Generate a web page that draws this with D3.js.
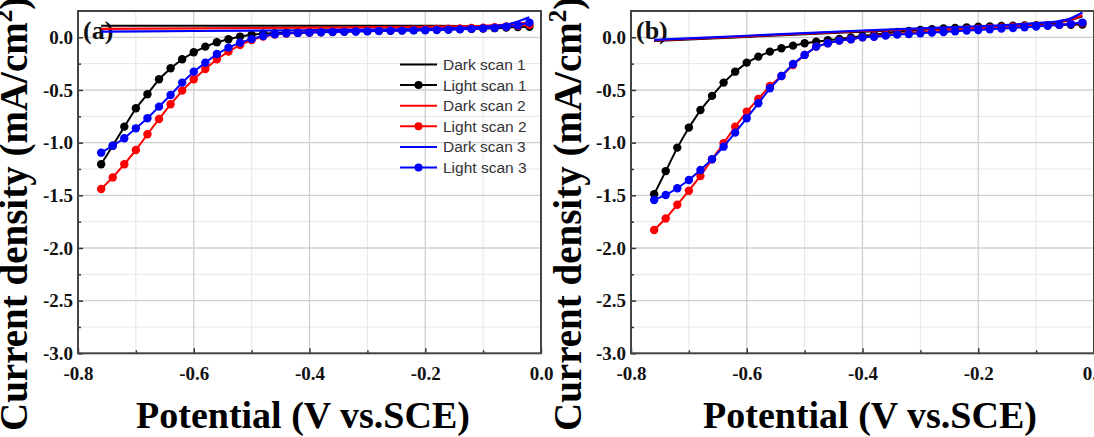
<!DOCTYPE html>
<html><head><meta charset="utf-8">
<script src="https://cdn.jsdelivr.net/npm/d3@7"></script>
<style>body{margin:0;background:#fff} svg{display:block}</style>
</head><body><svg id="c" width="1094" height="437"></svg>
<script>
// ---------- DATA ----------
const potentials = [-0.76,-0.74,-0.72,-0.70,-0.68,-0.66,-0.64,-0.62,-0.60,-0.58,-0.56,-0.54,-0.52,-0.50,-0.48,-0.46,-0.44,-0.42,-0.40,-0.38,-0.36,-0.34,-0.32,-0.30,-0.28,-0.26,-0.24,-0.22,-0.20,-0.18,-0.16,-0.14,-0.12,-0.10,-0.08,-0.06,-0.04,-0.02];

const seriesNames = ["Dark scan 1","Light scan 1","Dark scan 2","Light scan 2","Dark scan 3","Light scan 3"];
const seriesColors = ["#000000","#ff0000","#0000ff"];

// Panel (a)
const lightA1 = [-1.205,-1.03,-0.848,-0.674,-0.54,-0.398,-0.294,-0.208,-0.142,-0.088,-0.047,-0.018,0.007,0.025,0.035,0.04,0.043,0.046,0.048,0.05,0.052,0.055,0.057,0.06,0.062,0.064,0.066,0.068,0.07,0.072,0.075,0.078,0.08,0.083,0.087,0.092,0.097,0.10];
const lightA2 = [-1.44,-1.33,-1.205,-1.07,-0.92,-0.775,-0.636,-0.506,-0.398,-0.30,-0.208,-0.136,-0.072,-0.025,0.007,0.026,0.036,0.042,0.046,0.05,0.053,0.056,0.059,0.062,0.065,0.068,0.07,0.073,0.076,0.079,0.082,0.085,0.088,0.092,0.097,0.103,0.11,0.12];
const lightA3 = [-1.095,-1.03,-0.958,-0.864,-0.768,-0.658,-0.547,-0.43,-0.326,-0.24,-0.158,-0.098,-0.05,-0.015,0.013,0.03,0.038,0.042,0.045,0.048,0.05,0.052,0.055,0.057,0.06,0.062,0.064,0.066,0.068,0.07,0.073,0.076,0.08,0.085,0.09,0.10,0.115,0.14];
const darkPotA = [-0.76,-0.6,-0.4,-0.2,-0.1,-0.06,-0.04,-0.02];
const darkA1 = [0.11,0.11,0.11,0.11,0.105,0.1,0.1,0.1];
const darkA2 = [0.08,0.085,0.092,0.1,0.11,0.12,0.13,0.14];
const darkA3 = [0.055,0.06,0.068,0.08,0.1,0.12,0.15,0.19];

// Panel (b)
const lightB1 = [-1.49,-1.27,-1.047,-0.857,-0.69,-0.556,-0.43,-0.326,-0.24,-0.183,-0.136,-0.104,-0.079,-0.056,-0.041,-0.028,-0.015,-0.002,0.012,0.025,0.038,0.05,0.06,0.07,0.078,0.085,0.09,0.095,0.1,0.104,0.107,0.11,0.112,0.114,0.116,0.118,0.12,0.122];
const lightB2 = [-1.83,-1.72,-1.59,-1.456,-1.316,-1.158,-1.006,-0.848,-0.705,-0.585,-0.462,-0.367,-0.262,-0.167,-0.088,-0.056,-0.031,-0.018,0.0,0.01,0.022,0.032,0.04,0.048,0.055,0.062,0.069,0.076,0.083,0.089,0.095,0.1,0.105,0.11,0.115,0.12,0.128,0.135];
const lightB3 = [-1.544,-1.497,-1.433,-1.354,-1.26,-1.158,-1.038,-0.905,-0.768,-0.626,-0.484,-0.367,-0.253,-0.167,-0.088,-0.056,-0.031,-0.018,0.0,0.006,0.016,0.026,0.032,0.039,0.045,0.051,0.058,0.064,0.07,0.077,0.083,0.089,0.096,0.102,0.11,0.118,0.128,0.14];
const darkPotB = [-0.76,-0.6,-0.5,-0.4,-0.3,-0.2,-0.1,-0.06,-0.04,-0.02];
const darkB1 = [-0.035,0.005,0.03,0.055,0.075,0.095,0.125,0.145,0.165,0.2];
const darkB2 = [-0.03,0.01,0.035,0.06,0.08,0.1,0.13,0.15,0.17,0.21];
const darkB3 = [-0.025,0.015,0.04,0.065,0.085,0.105,0.135,0.155,0.18,0.235];

const xTicks = [-0.8,-0.6,-0.4,-0.2,0.0];
const xMinorTicks = [-0.7,-0.5,-0.3,-0.1];
const yTicks = [0.0,-0.5,-1.0,-1.5,-2.0,-2.5,-3.0];
const yMinorTicks = [-0.25,-0.75,-1.25,-1.75,-2.25,-2.75];
const xDomain = [-0.8, 0.0];
const yDomain = [-3.0, 0.25];
const xTitle = "Potential (V vs.SCE)";
const yTitleMain = "Current density (mA/cm";

// ---------- LAYOUT ----------
const svg = d3.select("#c");
const TOP = 11, BOTTOM = 353.3;
const serif = "'Liberation Serif','Times New Roman',Times,serif";
const sans = "'Liberation Sans',Arial,Helvetica,sans-serif";
const fmt = d => d.toFixed(1);

const panels = [
  {left:78, right:541, label:"(a)", light:[lightA1,lightA2,lightA3], darkPot:darkPotA, dark:[darkA1,darkA2,darkA3], titleX:303, yTitleX:27, legend:true},
  {left:631, right:1094, label:"(b)", light:[lightB1,lightB2,lightB3], darkPot:darkPotB, dark:[darkB1,darkB2,darkB3], titleX:870, yTitleX:581, legend:false}
];

panels.forEach(p => {
  const x = d3.scaleLinear().domain(xDomain).range([p.left, p.right]);
  const y = d3.scaleLinear().domain(yDomain).range([BOTTOM, TOP]);
  const g = svg.append("g");

  // minor gridlines
  g.selectAll(".gxm").data(xMinorTicks).enter().append("line")
    .attr("x1", d=>x(d)).attr("x2", d=>x(d)).attr("y1", TOP).attr("y2", BOTTOM)
    .attr("stroke", "#e6e6e6").attr("stroke-width", 1);
  g.selectAll(".gym").data(yMinorTicks).enter().append("line")
    .attr("y1", d=>y(d)).attr("y2", d=>y(d)).attr("x1", p.left).attr("x2", p.right)
    .attr("stroke", "#e6e6e6").attr("stroke-width", 1);
  // major gridlines
  g.selectAll(".gx").data(xTicks).enter().append("line")
    .attr("x1", d=>x(d)).attr("x2", d=>x(d)).attr("y1", TOP).attr("y2", BOTTOM)
    .attr("stroke", "#cfcfcf").attr("stroke-width", 1.3);
  g.selectAll(".gy").data(yTicks).enter().append("line")
    .attr("y1", d=>y(d)).attr("y2", d=>y(d)).attr("x1", p.left).attr("x2", p.right)
    .attr("stroke", "#cfcfcf").attr("stroke-width", 1.3);

  // axes
  const ax = g.append("g").attr("transform", `translate(0,${BOTTOM})`)
    .call(d3.axisBottom(x).tickValues(xTicks).tickFormat(fmt).tickSize(-5).tickPadding(13));
  const axm = g.append("g").attr("transform", `translate(0,${BOTTOM})`)
    .call(d3.axisBottom(x).tickValues(xMinorTicks).tickFormat("").tickSize(-3));
  const ay = g.append("g").attr("transform", `translate(${p.left},0)`)
    .call(d3.axisLeft(y).tickValues(yTicks).tickFormat(fmt).tickSize(-5).tickPadding(5));
  const aym = g.append("g").attr("transform", `translate(${p.left},0)`)
    .call(d3.axisLeft(y).tickValues(yMinorTicks).tickFormat("").tickSize(-3));
  [ax,axm,ay,aym].forEach(a => {
    a.select(".domain").remove();
    a.selectAll("line").attr("stroke", "#333").attr("stroke-width", 1.5);
    a.selectAll("text").attr("font-family", serif).attr("font-weight", "bold")
      .attr("font-size", 19).attr("fill", "#111");
  });
  ax.selectAll("text").attr("dy", "0.71em");

  // frame
  g.append("rect").attr("x", p.left).attr("y", TOP)
    .attr("width", p.right - p.left).attr("height", BOTTOM - TOP)
    .attr("fill", "none").attr("stroke", "#444").attr("stroke-width", 2);

  // panel label
  g.append("text").attr("x", p.left + 5).attr("y", 38.5).text(p.label)
    .attr("font-family", serif).attr("font-weight", "bold").attr("font-size", 26).attr("fill", "#111");

  // series
  const darkLine = d3.line().x((d,i)=>x(p.darkPot[i])).y(d=>y(d)).curve(d3.curveMonotoneX);
  const lightLine = d3.line().x((d,i)=>x(potentials[i])).y(d=>y(d));
  for (let k = 0; k < 3; k++) {
    const col = seriesColors[k];
    g.append("path").datum(p.dark[k]).attr("d", darkLine)
      .attr("fill","none").attr("stroke", col).attr("stroke-width", 2.2);
    g.append("path").datum(p.light[k]).attr("d", lightLine)
      .attr("fill","none").attr("stroke", col).attr("stroke-width", 2);
    g.selectAll(null).data(p.light[k]).enter().append("circle")
      .attr("cx", (d,i)=>x(potentials[i])).attr("cy", d=>y(d)).attr("r", 4.2)
      .attr("fill", col);
  }

  // axis titles
  g.append("text").attr("x", p.titleX).attr("y", 428).attr("text-anchor","middle")
    .attr("font-family", serif).attr("font-weight","bold").attr("font-size", 38).attr("fill","#000")
    .text(xTitle);
  const yt = g.append("text").attr("transform", `translate(${p.yTitleX},431) rotate(-90)`)
    .attr("text-anchor","start")
    .attr("font-family", serif).attr("font-weight","bold").attr("font-size", 39).attr("fill","#000");
  yt.append("tspan").text(yTitleMain);
  yt.append("tspan").attr("font-size", 25).attr("dy", -15).text("2");
  yt.append("tspan").attr("dy", 15).text(")");

  // legend
  if (p.legend) {
    const lx0 = 400, lx1 = 437, ly0 = 64.5, step = 20.6;
    seriesNames.forEach((name, i) => {
      const col = seriesColors[Math.floor(i/2)];
      const yy = ly0 + i*step;
      const lg = g.append("g");
      lg.append("line").attr("x1", lx0).attr("x2", lx1).attr("y1", yy).attr("y2", yy)
        .attr("stroke", col).attr("stroke-width", 2);
      if (i % 2 === 1) lg.append("circle").attr("cx", (lx0+lx1)/2).attr("cy", yy).attr("r", 4).attr("fill", col);
      lg.append("text").attr("x", 443).attr("y", yy).attr("dy", "0.35em").text(name)
        .attr("font-family", sans).attr("font-size", 15.5).attr("fill", "#333");
    });
  }
});
</script>
</body></html>
